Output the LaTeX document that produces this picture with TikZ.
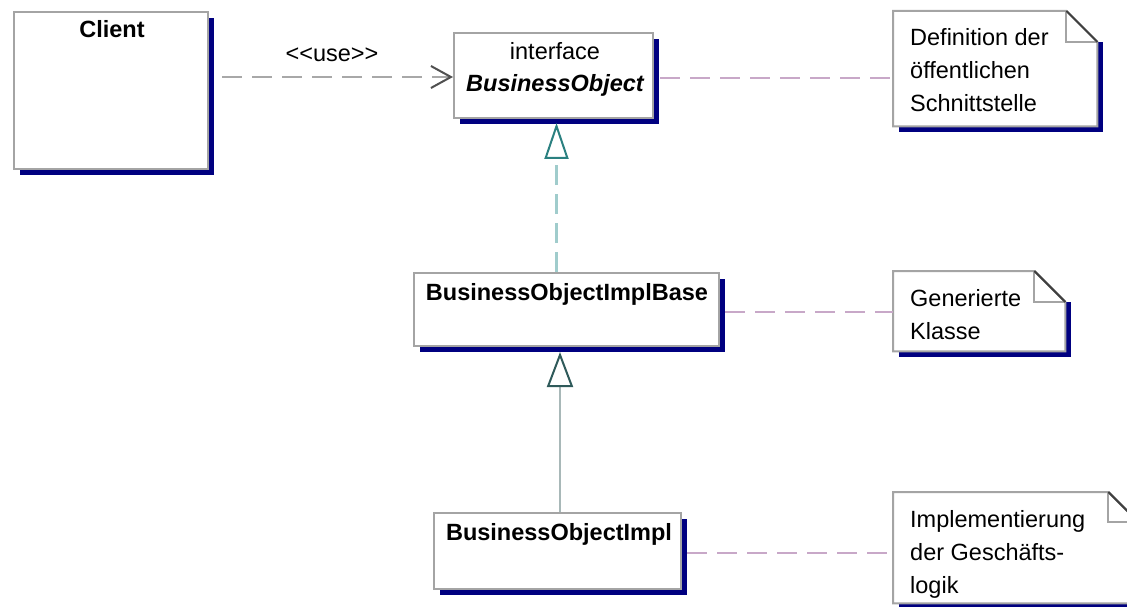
\documentclass[tikz,border=0pt]{standalone}
\usepackage{fontspec}
\setmainfont{Liberation Sans}
\usetikzlibrary{arrows.meta,shadows,calc}

\definecolor{navyshadow}{HTML}{000080}
\definecolor{boxline}{HTML}{A4A4A4}
\definecolor{useline}{HTML}{A8A8A8}
\definecolor{usetip}{HTML}{505050}
\definecolor{noteline}{HTML}{C8A8C8}
\definecolor{realline}{HTML}{A0CCCC}
\definecolor{realtip}{HTML}{2A8080}
\definecolor{genline}{HTML}{A8B8B8}
\definecolor{gentip}{HTML}{2F5A5A}
\definecolor{folddark}{HTML}{404040}

% UML note with folded corner: #1 = node name, #2 = fold size
\newcommand\umlnote[2]{%
  \fill[navyshadow] ($(#1.south west)+(6,0)$) rectangle ($(#1.south east)+(6,6)$);
  \fill[navyshadow] ($(#1.north east)+(0,#2)$) rectangle ($(#1.south east)+(6,6)$);
  \draw[boxline, line width=2pt, fill=white]
    (#1.north west) -- ($(#1.north east)+(-#2,0)$) -- ($(#1.north east)+(0,#2)$)
    -- (#1.south east) -- (#1.south west) -- cycle;
  \draw[boxline, line width=2pt]
    ($(#1.north east)+(-#2,0)$) -- ($(#1.north east)+(-#2,#2)$) -- ($(#1.north east)+(0,#2)$);
  \draw[folddark, line width=2pt]
    ($(#1.north east)+(-#2,0)$) -- ($(#1.north east)+(0,#2)$);
}

\begin{document}
\begin{tikzpicture}[x=1pt, y=-1pt,
  classbox/.style={draw=boxline, line width=2pt, fill=white, inner sep=0pt,
    anchor=north west,
    drop shadow={shadow xshift=6pt, shadow yshift=-6pt, fill=navyshadow, opacity=1}},
  notearea/.style={draw=none, inner sep=0pt, anchor=north west},
  txt/.style={font=\fontsize{23.5}{33}\selectfont, inner sep=0pt},
  boldtxt/.style={font=\fontsize{23.5}{33}\selectfont\bfseries, inner sep=0pt},
  notetxt/.style={font=\fontsize{23.5}{33}\selectfont, inner sep=0pt, align=left, anchor=base west},
  uselink/.style={draw=useline, line width=2.5pt, dash pattern=on 20pt off 10pt,
    -{Straight Barb[length=20pt, width=22pt, line width=2pt, color=usetip]}},
  notelink/.style={draw=noteline, line width=2.5pt, dash pattern=on 20pt off 10pt},
  reallink/.style={draw=realline, line width=2.5pt, dash pattern=on 20pt off 9pt,
    -{Triangle[length=36pt, width=24pt, line width=2pt, color=realtip, fill=white]}},
  genlink/.style={draw=genline, line width=2.5pt,
    -{Triangle[length=35pt, width=26pt, line width=2pt, color=gentip, fill=white]}},
]
\useasboundingbox (0,0) rectangle (1127,607);

% classes
\node[classbox, minimum width=194pt, minimum height=157pt] (client) at (13,11) {};
\node[classbox, minimum width=199pt, minimum height=85pt] (bo) at (453,32) {};
\node[classbox, minimum width=305pt, minimum height=73pt] (base) at (413,272) {};
\node[classbox, minimum width=247pt, minimum height=76pt] (impl) at (433,512) {};

\node[boldtxt, anchor=base] (client-name) at (112,38) {Client};
\node[txt, anchor=base] (bo-stereo) at (555,60) {interface};
\node[boldtxt, font=\fontsize{23.5}{33}\selectfont\bfseries\itshape, anchor=base] (bo-name) at (555,92) {BusinessObject};
\node[boldtxt, anchor=base] (base-name) at (567,300) {BusinessObjectImplBase};
\node[boldtxt, anchor=base] (impl-name) at (559,540) {BusinessObjectImpl};

% notes
\node[notearea, minimum width=204pt, minimum height=115pt] (note1) at (893,11) {};
\node[notearea, minimum width=172pt, minimum height=80pt] (note2) at (893,271) {};
\node[notearea, minimum width=245pt, minimum height=111pt] (note3) at (893,492) {};
\umlnote{note1}{31}
\umlnote{note2}{31}
\umlnote{note3}{30}

% the base anchor of a multi-line node sits on its last line
\node[notetxt] (note1-text) at (910,112) {Definition der\\öffentlichen\\Schnittstelle};
\node[notetxt] (note2-text) at (910,339) {Generierte\\Klasse};
\node[notetxt] (note3-text) at (910,593) {Implementierung\\der Geschäfts-\\logik};

% dependency client -> interface
\coordinate (use-start) at (222,77);
\draw[uselink] (use-start) -- (use-start -| bo.west);
\node[txt, anchor=base] (use-label) at (332,62) {<\kern0pt<use>\kern0pt>};

% realization and generalization
\coordinate (real-top) at ($(bo.south)+(3,4)$);
\draw[reallink] (real-top |- base.north) -- (real-top);
\coordinate (gen-top) at ($(base.south)+(-6.5,5)$);
\draw[genlink] (gen-top |- impl.north) -- (gen-top);

% note attachments
\coordinate (bo-link) at ($(bo.east)+(6,2.5)$);
\draw[notelink] (bo-link) -- (bo-link -| note1.west);
\coordinate (base-link) at ($(base.east)+(5,2.5)$);
\draw[notelink] (base-link) -- (base-link -| note2.west);
\coordinate (impl-link) at ($(impl.east)+(5,2)$);
\draw[notelink] (impl-link) -- (impl-link -| note3.west);
\end{tikzpicture}
\end{document}
